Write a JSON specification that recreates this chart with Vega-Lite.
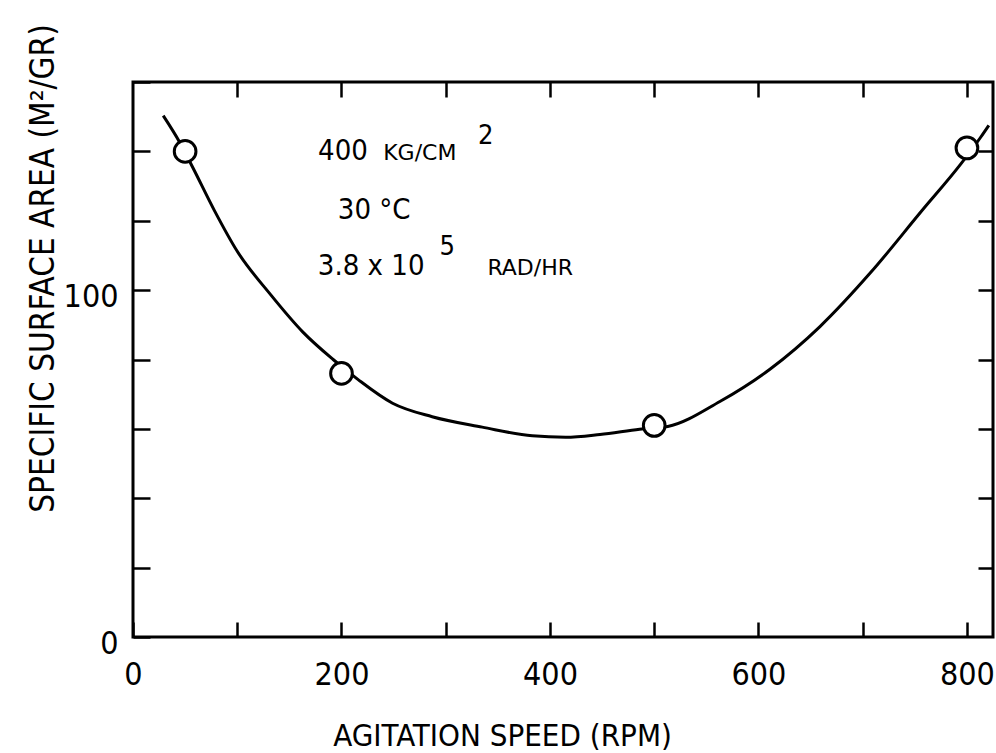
{
  "$schema": "https://vega.github.io/schema/vega-lite/v6.json",
  "autosize": {"type": "none"},
  "width": 860,
  "height": 555,
  "padding": {"left": 133, "top": 82, "right": 3, "bottom": 116},
  "background": "white",
  "config": {
    "view": {"stroke": "black", "strokeWidth": 3},
    "font": "DejaVu Sans Condensed, DejaVu Sans, sans-serif",
    "axis": {
      "grid": false,
      "domain": false,
      "tickColor": "black",
      "tickWidth": 2.5,
      "labelColor": "black",
      "titleColor": "black",
      "labelFont": "DejaVu Sans Condensed, DejaVu Sans, sans-serif",
      "titleFont": "DejaVu Sans Condensed, DejaVu Sans, sans-serif",
      "labelFontWeight": "normal",
      "titleFontWeight": "normal"
    }
  },
  "datasets": {
    "curve": [
      {"speed": 29, "area": 150.3},
      {"speed": 45, "area": 142.5},
      {"speed": 57.6, "area": 135.2},
      {"speed": 78, "area": 123},
      {"speed": 100, "area": 111.2},
      {"speed": 132, "area": 98.7},
      {"speed": 163, "area": 87.9},
      {"speed": 192, "area": 80},
      {"speed": 216, "area": 74.2},
      {"speed": 249, "area": 67.4},
      {"speed": 287, "area": 63.5},
      {"speed": 335, "area": 60.5},
      {"speed": 383, "area": 58},
      {"speed": 415, "area": 57.6},
      {"speed": 448, "area": 58.4},
      {"speed": 486, "area": 59.9},
      {"speed": 513, "area": 60.7},
      {"speed": 563, "area": 67.9},
      {"speed": 611, "area": 77.2},
      {"speed": 659, "area": 89.5},
      {"speed": 708, "area": 105.2},
      {"speed": 756.5, "area": 122.8},
      {"speed": 794, "area": 136.3},
      {"speed": 813, "area": 144},
      {"speed": 821, "area": 147.5}
    ],
    "measured": [
      {"speed": 50, "area": 140},
      {"speed": 200, "area": 76},
      {"speed": 500, "area": 61},
      {"speed": 800, "area": 141}
    ],
    "notes": [
      {"part": "main", "text": "400", "speed": 177.5, "area": 137.5},
      {"part": "small", "text": "KG/CM", "speed": 240, "area": 137.5},
      {"part": "sup", "text": "2", "speed": 331, "area": 142.1},
      {"part": "main", "text": "30 °C", "speed": 196.5, "area": 120.5},
      {"part": "main", "text": "3.8 x 10", "speed": 177.3, "area": 104.3},
      {"part": "sup", "text": "5", "speed": 294, "area": 110.1},
      {"part": "small", "text": "RAD/HR", "speed": 340, "area": 104.3}
    ]
  },
  "resolve": {"axis": {"x": "independent", "y": "independent"}},
  "layer": [
    {
      "data": {"name": "curve"},
      "mark": {"type": "line", "interpolate": "monotone", "color": "black", "strokeWidth": 3},
      "encoding": {
        "x": {
          "field": "speed", "type": "quantitative",
          "scale": {"domain": [0, 825], "nice": false, "zero": false},
          "axis": {
            "orient": "bottom",
            "values": [0, 100, 200, 300, 400, 500, 600, 700, 800],
            "labelExpr": "datum.value % 200 === 0 ? datum.label : ''",
            "tickSize": -15,
            "labelPadding": 37,
            "labelFontSize": 32,
            "labelFlush": false,
            "labelOverlap": false,
            "title": "AGITATION SPEED (RPM)",
            "titleFontSize": 31,
            "titleX": 369,
            "titleY": 108,
            "titleAlign": "center",
            "titleBaseline": "alphabetic"
          }
        },
        "y": {
          "field": "area", "type": "quantitative",
          "scale": {"domain": [0, 160], "nice": false, "zero": false},
          "axis": {
            "orient": "left",
            "values": [0, 20, 40, 60, 80, 100, 120, 140, 160],
            "labelExpr": "datum.value === 0 || datum.value === 100 ? datum.label : ''",
            "tickSize": -17,
            "labelPadding": 32,
            "labelOffset": 6,
            "labelFontSize": 32,
            "labelFlush": false,
            "labelOverlap": false,
            "title": "SPECIFIC SURFACE AREA (M²/GR)",
            "titleFontSize": 33,
            "titleAngle": -90,
            "titleX": -80,
            "titleY": 186,
            "titleAlign": "center",
            "titleBaseline": "alphabetic"
          }
        }
      }
    },
    {
      "data": {"name": "measured"},
      "mark": {"type": "point", "shape": "circle", "filled": true, "fill": "white", "stroke": "black", "strokeWidth": 3, "size": 470, "opacity": 1},
      "encoding": {
        "x": {
          "field": "speed", "type": "quantitative",
          "scale": {"domain": [0, 825], "nice": false, "zero": false},
          "axis": {
            "orient": "top",
            "values": [100, 200, 300, 400, 500, 600, 700, 800],
            "labels": false,
            "tickSize": -15,
            "title": null
          }
        },
        "y": {
          "field": "area", "type": "quantitative",
          "scale": {"domain": [0, 160], "nice": false, "zero": false},
          "axis": {
            "orient": "right",
            "values": [20, 40, 60, 80, 100, 120, 140],
            "labels": false,
            "tickSize": -15,
            "title": null
          }
        }
      }
    },
    {
      "data": {"name": "notes"},
      "transform": [{"filter": "datum.part === 'main'"}],
      "mark": {"type": "text", "align": "left", "baseline": "alphabetic", "fontSize": 29, "color": "black"},
      "encoding": {
        "x": {"field": "speed", "type": "quantitative", "axis": null},
        "y": {"field": "area", "type": "quantitative", "axis": null},
        "text": {"field": "text"}
      }
    },
    {
      "data": {"name": "notes"},
      "transform": [{"filter": "datum.part === 'small'"}],
      "mark": {"type": "text", "align": "left", "baseline": "alphabetic", "fontSize": 22, "color": "black", "font": "DejaVu Sans"},
      "encoding": {
        "x": {"field": "speed", "type": "quantitative", "axis": null},
        "y": {"field": "area", "type": "quantitative", "axis": null},
        "text": {"field": "text"}
      }
    },
    {
      "data": {"name": "notes"},
      "transform": [{"filter": "datum.part === 'sup'"}],
      "mark": {"type": "text", "align": "left", "baseline": "alphabetic", "fontSize": 27, "color": "black"},
      "encoding": {
        "x": {"field": "speed", "type": "quantitative", "axis": null},
        "y": {"field": "area", "type": "quantitative", "axis": null},
        "text": {"field": "text"}
      }
    }
  ]
}
